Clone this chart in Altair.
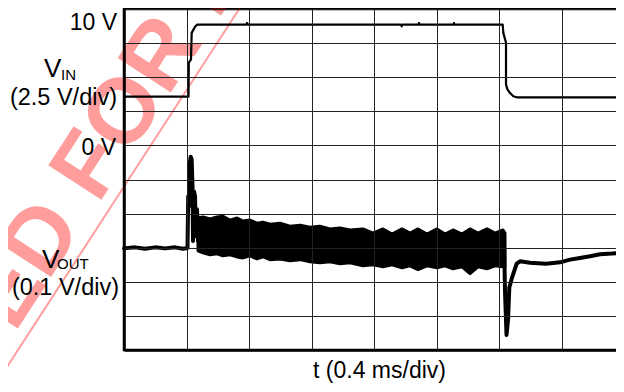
import altair as alt
import pandas as pd

# ---- data (x in time divisions of 0.4 ms, y in screen divisions, 0 = bottom) ----
t_vin = [0.0, 1.032, 1.037, 1.072, 1.083, 1.136, 1.173, 1.952, 1.968, 1.984, 4.432, 4.443, 4.456,
         4.712, 4.72, 4.728, 5.272, 5.28, 5.288, 6.059, 6.069, 6.112, 6.112, 6.133, 6.165, 6.229, 6.283, 8.0]
vin = [7.43, 7.43, 8.43, 8.52, 9.30, 9.48, 9.54, 9.54, 9.59, 9.54, 9.54, 9.49, 9.54,
       9.54, 9.59, 9.54, 9.54, 9.59, 9.54, 9.54, 9.30, 9.01, 7.79, 7.65, 7.56, 7.44, 7.41, 7.41]

t_pre = [0.0, 0.176, 0.336, 0.496, 0.656, 0.816, 0.944, 1.016, 1.027, 1.04, 1.056, 1.067, 1.083,
         1.096, 1.104, 1.12, 1.136, 1.152, 1.168, 1.184]
v_pre = [2.98, 3.01, 2.97, 3.01, 2.98, 3.01, 2.97, 2.99, 4.51, 4.22, 5.52, 5.67, 5.58,
         4.80, 3.20, 4.65, 4.51, 3.34, 4.13, 3.20]

t_band = [1.184, 1.264, 1.376, 1.488, 1.584, 1.696, 1.808, 1.904, 2.016, 2.128, 2.224, 2.336, 2.496,
          2.656, 2.816, 2.976, 3.136, 3.296, 3.456, 3.616, 3.824, 3.984, 4.144, 4.288, 4.448, 4.576,
          4.704, 4.848, 5.008, 5.136, 5.264, 5.408, 5.536, 5.664, 5.808, 5.936, 6.064, 6.096]
band_hi = [3.87, 3.90, 3.84, 3.90, 3.92, 3.81, 3.87, 3.78, 3.81, 3.72, 3.75, 3.69, 3.72,
           3.63, 3.66, 3.60, 3.63, 3.55, 3.58, 3.52, 3.55, 3.43, 3.55, 3.40, 3.55, 3.43,
           3.55, 3.40, 3.55, 3.40, 3.52, 3.40, 3.55, 3.43, 3.55, 3.43, 3.52, 3.43]
band_lo = [2.91, 2.85, 2.79, 2.82, 2.76, 2.79, 2.73, 2.70, 2.76, 2.67, 2.73, 2.65, 2.67,
           2.62, 2.65, 2.59, 2.56, 2.59, 2.53, 2.56, 2.47, 2.50, 2.44, 2.50, 2.41, 2.47,
           2.36, 2.47, 2.41, 2.47, 2.38, 2.44, 2.24, 2.44, 2.38, 2.47, 2.44, 2.44]

t_post = [6.08, 6.096, 6.12, 6.144, 6.165, 6.203, 6.283, 6.336, 6.496, 6.752, 6.976, 7.136,
          7.296, 7.456, 7.616, 7.808, 8.0]
v_post = [3.20, 1.74, 0.44, 0.87, 1.83, 2.09, 2.53, 2.60, 2.56, 2.53, 2.57, 2.65,
          2.70, 2.75, 2.81, 2.83, 2.86]

FONT = "Liberation Sans"
xs = alt.Scale(domain=[0, 8], nice=False, zero=False)
ys = alt.Scale(domain=[0, 10], nice=False, zero=False)


def ax(n):
    return alt.Axis(values=list(range(n)), grid=True, gridColor="#222222", gridWidth=1,
                    labels=False, ticks=False, domain=True, domainColor="black",
                    domainWidth=2.5, title=None, zindex=1)


X = lambda f: alt.X(f, type="quantitative", scale=xs, axis=ax(9))
Y = lambda f: alt.Y(f, type="quantitative", scale=ys, axis=ax(11))

one = alt.Data(values=[{"k": 0}])


def txt(s, x, y, size=23, align="right", **kw):
    return alt.Chart(one).mark_text(text=s, align=align, baseline="alphabetic", fontSize=size,
                                    font=FONT, color="black", **kw).encode(
        x=alt.value(x), y=alt.value(y))


# watermark (decoration, behind everything)
wm_color = "#ff0000"
WM = dict(baseline="alphabetic", angle=303, fontSize=92, fontWeight="bold", font=FONT,
          color=wm_color, opacity=0.38)
wm1 = alt.Chart(one).mark_text(text="FOR NEW DESIGNS", align="left", **WM).encode(
    x=alt.value(-26), y=alt.value(196))
wm2 = alt.Chart(one).mark_text(text="NOT RECOMMENDED", align="right", **WM).encode(
    x=alt.value(-40), y=alt.value(217.5))
wm_line = alt.Chart(one).mark_rule(color=wm_color, opacity=0.38, strokeWidth=2).encode(
    x=alt.value(-130), y=alt.value(378), x2=alt.value(121), y2=alt.value(-9))

vin_df = pd.DataFrame({"t": t_vin, "v": vin})
pre_df = pd.DataFrame({"t": t_pre, "v": v_pre})
band_df = pd.DataFrame({"t": t_band, "hi": band_hi, "lo": band_lo})
post_df = pd.DataFrame({"t": t_post, "v": v_post})

vin_line = alt.Chart(vin_df).mark_line(color="black", strokeWidth=2.2, strokeJoin="round").encode(
    x=X("t"), y=Y("v"), order="t:Q")
pre_line = alt.Chart(pre_df).mark_line(color="black", strokeWidth=4, strokeJoin="round",
                                       strokeCap="round").encode(x=X("t"), y=Y("v"), order="t:Q")
band = alt.Chart(band_df).mark_area(color="black", stroke="black", strokeWidth=3,
                                    strokeJoin="round").encode(x=X("t"), y=Y("hi"), y2="lo")
post_line = alt.Chart(post_df).mark_line(color="black", strokeWidth=4, strokeJoin="round",
                                         strokeCap="round").encode(x=X("t"), y=Y("v"), order="t:Q")

labels = [
    txt("10 V", -7, 20.5),
    txt("V", -80, 67.5, size=26, align="left"),
    txt("IN", -63, 70.5, size=15, align="left"),
    txt("(2.5 V/div)", -7, 96, size=23.5),
    txt("0 V", -8, 146),
    txt("V", -82, 259, size=26, align="left"),
    txt("OUT", -67, 260, size=15, align="left"),
    txt("(0.1 V/div)", -5, 286, size=23.5),
    txt("t (0.4 ms/div)", 255.5, 369, size=23, align="center"),
]

chart = alt.layer(wm1, wm2, wm_line, vin_line, band, pre_line, post_line, *labels).properties(
    width=500, height=341,
    autosize=alt.AutoSizeParams(type="none"),
    padding={"left": 116, "top": 1, "right": -8, "bottom": 34},
).configure_view(stroke="black", strokeWidth=2.5)

chart.save("out.html", embed_options={"renderer": "svg", "actions": False})
